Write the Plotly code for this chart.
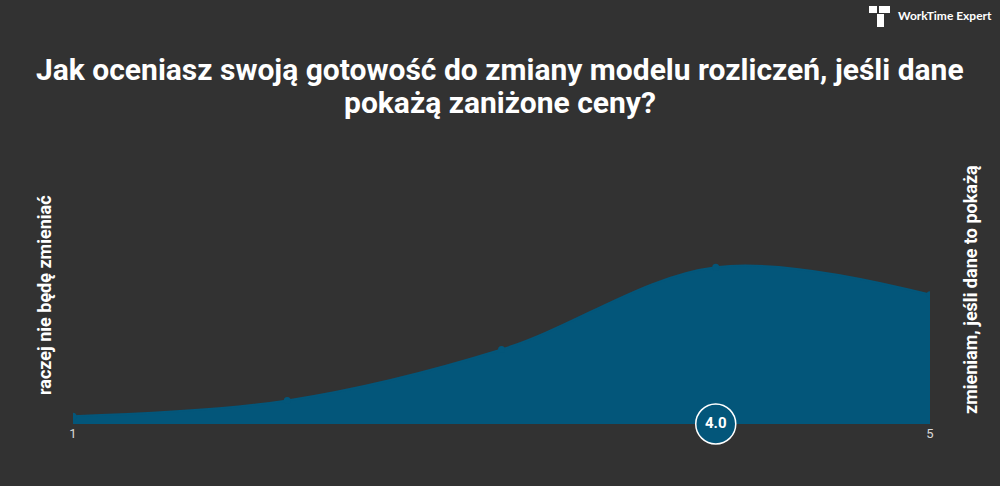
import plotly.graph_objects as go

# Data
scale_points = [1, 2, 3, 4, 5]
shares = [2, 6, 19, 40, 33]  # percent of answers
mean_score = 4.0
tick_vals = [1, 5]
tick_text = ["1", "5"]
title_lines = ["Jak oceniasz swoją gotowość do zmiany modelu rozliczeń, jeśli dane",
               "pokażą zaniżone ceny?"]
left_label = "raczej nie będę zmieniać"
right_label = "zmieniam, jeśli dane to pokażą"
brand = "WorkTime Expert"

BG = "#323232"
BLUE = "#03567a"
FONT = "Roboto"

W, H = 1000, 486
L, R, T, B = 73, 70, 228, 62
PW, PH = W - L - R, H - T - B


def px(x):
    return (x - L) / PW


def py(y):
    return (H - B - y) / PH


fig = go.Figure()
fig.add_trace(go.Scatter(
    x=scale_points, y=shares, mode="lines+markers",
    line=dict(shape="spline", smoothing=1.0, color=BLUE, width=2),
    marker=dict(size=7, color=BLUE),
    fill="tozeroy", fillcolor=BLUE, hoverinfo="skip", showlegend=False,
))
fig.add_trace(go.Scatter(
    x=[mean_score], y=[0], mode="markers+text",
    marker=dict(size=40, color=BLUE, line=dict(color="white", width=1.5)),
    text=[f"{mean_score:.1f}"], textposition="middle center",
    textfont=dict(family=FONT, size=15, color="white", weight="bold"),
    cliponaxis=False, hoverinfo="skip", showlegend=False,
))

annotations = [
    dict(text=title_lines[0], xref="paper", yref="paper", x=px(500), y=py(69),
         xanchor="center", yanchor="middle", showarrow=False,
         font=dict(family=FONT, size=30, color="white", weight="bold")),
    dict(text=title_lines[1], xref="paper", yref="paper", x=px(500), y=py(102),
         xanchor="center", yanchor="middle", showarrow=False,
         font=dict(family=FONT, size=30, color="white", weight="bold")),
    dict(text=left_label, xref="paper", yref="paper", x=px(44), y=py(295),
         xanchor="center", yanchor="middle", textangle=-90, showarrow=False,
         font=dict(family=FONT, size=18, color="white", weight="bold")),
    dict(text=right_label, xref="paper", yref="paper", x=px(970), y=py(290),
         xanchor="center", yanchor="middle", textangle=-90, showarrow=False,
         font=dict(family=FONT, size=18, color="white", weight="bold")),
    dict(text=brand, xref="paper", yref="paper", x=px(896), y=py(16),
         xanchor="left", yanchor="middle", showarrow=False,
         font=dict(family="Lato, sans-serif", size=12, color="white", weight="bold")),
]

shapes = [
    # logo: top bar (two blocks) and stem
    dict(type="rect", xref="paper", yref="paper", x0=px(869), x1=px(877), y0=py(13), y1=py(6),
         fillcolor="white", line=dict(width=0)),
    dict(type="rect", xref="paper", yref="paper", x0=px(879), x1=px(890), y0=py(13), y1=py(6),
         fillcolor="white", line=dict(width=0)),
    dict(type="rect", xref="paper", yref="paper", x0=px(877), x1=px(884), y0=py(27), y1=py(14),
         fillcolor="white", line=dict(width=0)),
]

fig.update_layout(
    width=W, height=H,
    paper_bgcolor=BG, plot_bgcolor=BG,
    margin=dict(l=L, r=R, t=T, b=B),
    font=dict(family=FONT, color="white"),
    xaxis=dict(range=[1, 5], tickvals=tick_vals, ticktext=tick_text,
               showgrid=False, zeroline=False, showline=False, ticks="",
               tickfont=dict(family=FONT, size=13, color="#d8d8d8")),
    yaxis=dict(range=[0, 50], visible=False, fixedrange=True),
    annotations=annotations,
    shapes=shapes,
)

fig.write_html("out.html", config={"displayModeBar": False},
               post_script="document.body.style.margin='0';document.body.style.overflow='hidden';")
